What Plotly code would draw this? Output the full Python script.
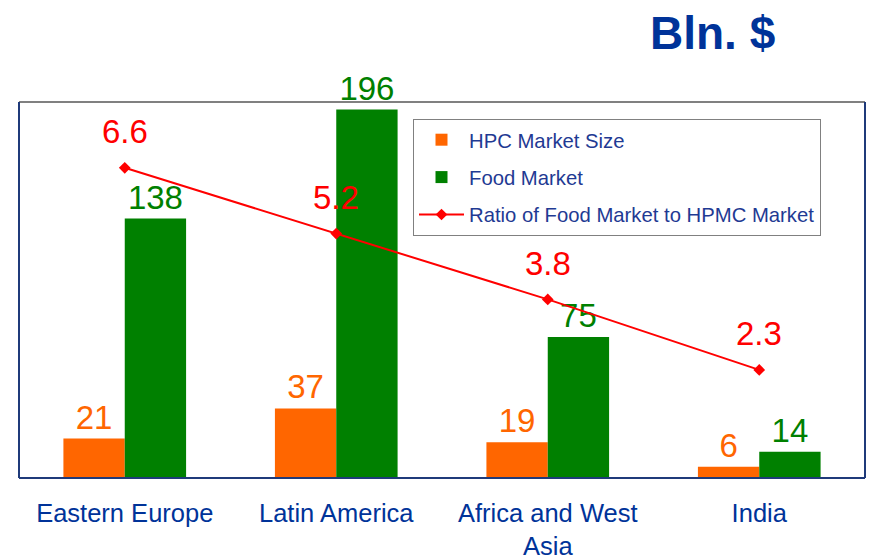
import plotly.graph_objects as go

categories = ["Eastern Europe", "Latin America", "Africa and West<br>Asia", "India"]
hpc_market = [21, 37, 19, 6]
food_market = [138, 196, 75, 14]
ratio = [6.6, 5.2, 3.8, 2.3]

ORANGE = "#FF6600"
GREEN = "#008000"
RED = "#FF0000"
NAVY = "#1F3A8A"
FONT = "Liberation Sans, Arial, sans-serif"

# the page body adds an 8px offset; figure sized so it ends at the window edge
W, H = 866, 551
ml, mr, mt, mb = 11, 9, 94, 81
pw, ph = W - ml - mr, H - mt - mb

fig = go.Figure()
fig.add_trace(go.Bar(
    x=categories, y=hpc_market, name="HPC Market Size",
    marker=dict(color=ORANGE, line=dict(width=0)),
    text=[str(v) for v in hpc_market], textposition="outside",
    textfont=dict(color=ORANGE, size=33, family=FONT), cliponaxis=False,
    legendgroup="a",
))
fig.add_trace(go.Bar(
    x=categories, y=food_market, name="Food Market",
    marker=dict(color=GREEN, line=dict(width=0)),
    text=[str(v) for v in food_market], textposition="outside",
    textfont=dict(color=GREEN, size=33, family=FONT), cliponaxis=False,
    legendgroup="b",
))
fig.add_trace(go.Scatter(
    x=categories, y=ratio, name="Ratio of Food Market to HPMC Market",
    mode="lines+markers", yaxis="y2",
    line=dict(color=RED, width=2),
    marker=dict(symbol="diamond", size=9, color=RED),
    legendgroup="c", cliponaxis=False,
))

annotations = []
for c, r in zip(categories, ratio):
    annotations.append(dict(
        x=c, y=r, xref="x", yref="y2", text=f"{r:.1f}", showarrow=False,
        yshift=36, font=dict(color=RED, size=33, family=FONT),
    ))
annotations.append(dict(
    x=(769 - ml) / pw, y=(H - 25 - mb) / ph, xref="paper", yref="paper",
    text="<b>Bln. $</b>", showarrow=False,
    font=dict(color="#003399", size=46, family=FONT),
    xanchor="right", yanchor="middle",
))

fig.update_layout(
    width=W, height=H,
    margin=dict(l=ml, r=mr, t=mt, b=mb, pad=0, autoexpand=False),
    paper_bgcolor="white", plot_bgcolor="white",
    barmode="group", bargap=0.42, bargroupgap=0,
    font=dict(family=FONT, color=NAVY),
    xaxis=dict(showgrid=False, zeroline=False, showline=False, ticks="",
               automargin=False, ticklabelstandoff=17,
               tickfont=dict(size=25.5, color="#003399", family=FONT)),
    yaxis=dict(range=[0, 200], showgrid=False, zeroline=False, showticklabels=False,
               showline=False, automargin=False),
    yaxis2=dict(range=[0, 8], overlaying="y", side="right", showgrid=False,
                zeroline=False, showticklabels=False, showline=False, automargin=False),
    legend=dict(x=(405 - ml) / pw, y=(470 - 111) / ph, xanchor="left", yanchor="top",
                bgcolor="white", bordercolor="#808080", borderwidth=1,
                font=dict(size=20.3, color="#1F3A93", family=FONT),
                traceorder="grouped", tracegroupgap=8, itemwidth=45),
    annotations=annotations,
    shapes=[
        dict(type="line", xref="paper", yref="paper", x0=0, x1=1, y0=1, y1=1,
             line=dict(color="#808080", width=2)),
        dict(type="line", xref="paper", yref="paper", x0=0, x1=0, y0=0, y1=1,
             line=dict(color="#1F3A7A", width=2)),
        dict(type="line", xref="paper", yref="paper", x0=1, x1=1, y0=0, y1=1,
             line=dict(color="#1F3A7A", width=2)),
        dict(type="line", xref="paper", yref="paper", x0=0, x1=1, y0=0, y1=0,
             line=dict(color="#1F3A7A", width=2)),
    ],
    showlegend=True,
)

fig.write_html("out.html")
